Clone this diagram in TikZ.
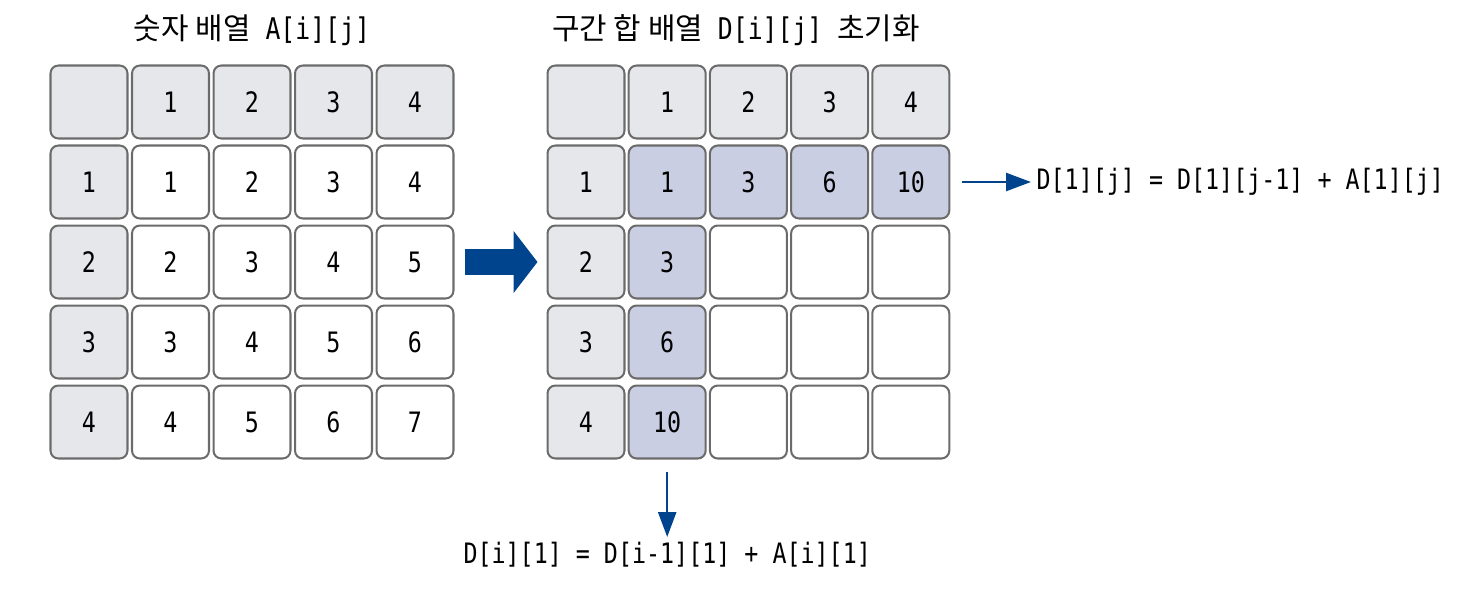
\documentclass[tikz,border=0pt]{standalone}
\usepackage{fontspec}
\setmainfont[FakeStretch=0.83]{DejaVu Sans Mono}
\newfontfamily\kr{Noto Sans CJK KR}
\usetikzlibrary{arrows.meta}

\definecolor{cellgray}{HTML}{E6E7EA}
\definecolor{cellblue}{HTML}{C9CEE3}
\definecolor{celledge}{HTML}{6B6B6B}
\definecolor{arrowblue}{HTML}{00448E}

\tikzset{
    cell/.style={draw=celledge, fill=white, line width=1.15pt, rounded corners=4.5pt,
        minimum width=1.54cm, minimum height=1.46cm, inner sep=0pt,
        font=\fontsize{16}{19}\selectfont},
    headcell/.style={cell, fill=cellgray},
    sumcell/.style={cell, fill=cellblue},
    title/.style={font=\fontsize{17}{20}\selectfont},
    formula/.style={font=\fontsize{16}{19}\selectfont, inner sep=3pt},
    flow/.style={draw=arrowblue, line width=1.4pt, -{Triangle[length=0.5cm, width=0.36cm]}},
    bigflow/.style={draw=arrowblue, line width=0.52cm, -{Triangle[length=0.48cm, width=1.22cm]}},
}

\begin{document}
\begin{tikzpicture}[x=0.02cm, y=-0.02cm]
    \useasboundingbox (0, 0) rectangle (1470, 595);

    % Titles
    \node[title] (titleA) at (252, 30) {{\kr 숫자 배열} A[i][j]};
    \node[title] (titleD) at (736, 30) {{\kr 구간 합 배열} D[i][j] {\kr 초기화}};

    % Number array A (left)
    \node[headcell] (a-0-0) at (89, 102) {};
    \foreach \c in {1,...,4} {
        \node[headcell] (a-0-\c) at ({89+81.5*\c}, 102) {\c};
    }
    \foreach \r in {1,...,4} {
        \node[headcell] (a-\r-0) at (89, {102+80*\r}) {\r};
        \foreach \c in {1,...,4} {
            \pgfmathtruncatemacro\val{\r+\c-1}
            \node[cell] (a-\r-\c) at ({89+81.5*\c}, {102+80*\r}) {\val};
        }
    }

    % Prefix sum array D (right)
    \node[headcell] (d-0-0) at (586, 102) {};
    \foreach \c in {1,...,4} {
        \node[headcell] (d-0-\c) at ({586+81.2*\c}, 102) {\c};
    }
    \foreach \r in {1,...,4} {
        \node[headcell] (d-\r-0) at (586, {102+80*\r}) {\r};
    }
    % first row and first column (initialised)
    \foreach \c/\v in {1/1, 2/3, 3/6, 4/10} {
        \node[sumcell] (d-1-\c) at ({586+81.2*\c}, 182) {\v};
    }
    \foreach \r/\v in {2/3, 3/6, 4/10} {
        \node[sumcell] (d-\r-1) at (667.2, {102+80*\r}) {\v};
    }
    % empty cells
    \foreach \r in {2,...,4} {
        \foreach \c in {2,...,4} {
            \node[cell] (d-\r-\c) at ({586+81.2*\c}, {102+80*\r}) {};
        }
    }

    % Formulas
    \node[formula, anchor=west] (rowrule) at (1031, 182) {D[1][j] = D[1][j-1] + A[1][j]};
    \node[formula, anchor=north] (colrule) at (667.2, 537) {D[i][1] = D[i-1][1] + A[i][1]};

    % Arrows
    \draw[bigflow, shorten <=0.2cm, shorten >=0.18cm] (a-2-4) -- (d-2-0);
    \draw[flow, shorten <=0.24cm] (d-1-4.east) -- (rowrule.west);
    \draw[flow, shorten <=0.24cm] (d-4-1.south) -- (colrule.north);
\end{tikzpicture}
\end{document}
